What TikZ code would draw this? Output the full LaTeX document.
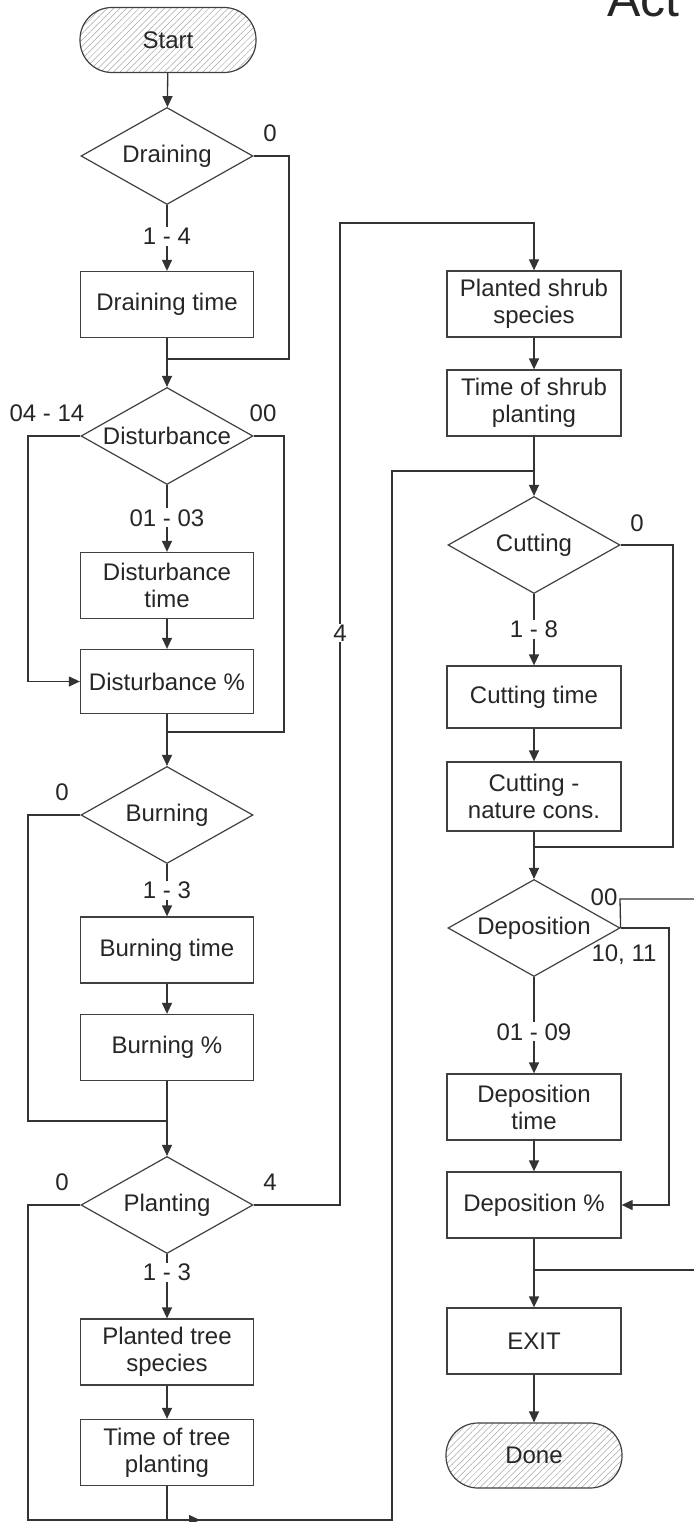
\documentclass[tikz,border=0pt]{standalone}
\usepackage{fontspec}
\setmainfont{Liberation Sans}
\usetikzlibrary{shapes.geometric,arrows.meta,patterns.meta}
% zero-width text, so the decision diamonds keep their fixed size
\newcommand{\zw}[1]{\makebox[0pt]{#1}}
\begin{document}
\begin{tikzpicture}[x=1pt,y=-1pt,
  every node/.style={font=\fontsize{24}{27}\selectfont, text=black!85},
  line/.style={draw=black!80, line width=1.3pt},
  arr/.style={line, -{Triangle[length=11pt,width=10pt]}},
  box/.style={draw=black!75, line width=1.3pt, minimum width=173pt,
    minimum height=66pt, inner sep=2pt, align=center},
  dec/.style={diamond, draw=black!75, line width=1.2pt, minimum width=172pt,
    minimum height=97pt, inner sep=0pt},
  term/.style={draw=black!75, line width=1.2pt, rounded corners=32pt,
    minimum width=176pt, minimum height=65pt,
    pattern={Lines[angle=45,distance=4.5pt,line width=0.5pt]}, pattern color=black!35},
  lbl/.style={inner sep=1pt},
  cutlbl/.style={lbl, fill=white}
]
\useasboundingbox (0,0) rectangle (693,1522);

% heading
\node[font=\fontsize{50}{50}\selectfont, anchor=base west, inner sep=0pt] (title) at (607,17) {Act};

% left column
\node[term] (start) at (168,40) {Start};
\node[dec] (drain) at (167,156) {\zw{Draining}};
\node[box] (drtime) at (167,304.5) {Draining time};
\node[dec] (dist) at (167,436) {\zw{Disturbance}};
\node[box] (disttime) at (167,585.5) {Disturbance\\time};
\node[box, minimum height=64pt] (distpct) at (167,681.5) {Disturbance \%};
\node[dec] (burn) at (167,815) {\zw{Burning}};
\node[box] (burntime) at (167,950) {Burning time};
\node[box] (burnpct) at (167,1047.5) {Burning \%};
\node[dec] (plant) at (167,1205) {\zw{Planting}};
\node[box] (treesp) at (167,1352) {Planted tree\\species};
\node[box] (treetime) at (167,1452.5) {Time of tree\\planting};

% right column
\node[box, minimum width=174pt] (shrubsp) at (534,304) {Planted shrub\\species};
\node[box, minimum width=174pt] (shrubtime) at (534,403) {Time of shrub\\planting};
\node[dec] (cut) at (534,545) {\zw{Cutting}};
\node[box, minimum width=174pt, minimum height=62pt] (cuttime) at (534,697) {Cutting time};
\node[box, minimum width=174pt, minimum height=69pt] (cutnat) at (534,796.5) {Cutting -\\nature cons.};
\node[dec] (dep) at (534,928) {\zw{Deposition}};
\node[box, minimum width=174pt] (deptime) at (534,1107) {Deposition\\time};
\node[box, minimum width=174pt] (deppct) at (534,1205) {Deposition \%};
\node[box, minimum width=174pt] (exit) at (534,1341) {EXIT};
\node[term] (done) at (534,1455.5) {Done};

% branch labels
\node[lbl] (ldr0) at (270,133) {0};
\node[lbl] (ldi1) at (47,413) {04 - 14};
\node[lbl] (ldi0) at (263,413) {00};
\node[lbl] (lbu0) at (62,792) {0};
\node[lbl] (lpl0) at (62,1182) {0};
\node[lbl] (lpl4) at (270,1182) {4};
\node[lbl] (lcu0) at (637,523) {0};
\node[lbl] (lde0) at (604,897) {00};
\node[lbl] (lde1) at (624,955) {10, 11};

% junction points
\coordinate (m1) at (167,359);
\coordinate (m2) at (167,732);
\coordinate (m3) at (167,1121);
\coordinate (m4) at (534,471);
\coordinate (m5) at (534,847);
\coordinate (m6) at (534,1270);
\coordinate (tj) at (200,1520);
\coordinate (ex1) at (700,899);
\coordinate (ex2) at (700,1270);

% draining
\draw[arr] (start) -- (drain);
\draw[arr] (drain.south) -- node[cutlbl,pos=.48] (l14) {1 - 4} (drtime.north);
\draw[line] (drain.east) -- (289,156) |- (m1);
\draw[arr] (drtime.south) -- (dist.north);

% disturbance
\draw[arr] (dist.south) -- node[cutlbl,pos=.49] (l0103) {01 - 03} (disttime.north);
\draw[arr] (disttime.south) -- (distpct.north);
\draw[arr] (dist.west) -- (28,436) |- (distpct.west);
\draw[line] (dist.east) -- (284,436) |- (m2);
\draw[arr] (distpct.south) -- (burn.north);

% burning
\draw[arr] (burn.south) -- node[cutlbl,pos=.5] (l13a) {1 - 3} (burntime.north);
\draw[arr] (burntime.south) -- (burnpct.north);
\draw[line] (burn.west) -- (28,815) |- (m3);
\draw[arr] (burnpct.south) -- (plant.north);

% planting
\draw[arr] (plant.south) -- node[cutlbl,pos=.28] (l13b) {1 - 3} (treesp.north);
\draw[arr] (treesp.south) -- (treetime.north);
\draw[arr] (treetime.south) |- (tj);
\draw[line] (plant.west) -- (28,1205) -- (28,1520) -- (392,1520) |- (m4);
\draw[arr] (plant.east) -- (340,1205) -- (340,223) -| (shrubsp.north);
\node[cutlbl] (l4b) at (340,633) {4};

% shrubs and cutting
\draw[arr] (shrubsp.south) -- (shrubtime.north);
\draw[arr] (shrubtime.south) -- (cut.north);
\draw[arr] (cut.south) -- node[cutlbl,pos=.5] (l18) {1 - 8} (cuttime.north);
\draw[arr] (cuttime.south) -- (cutnat.north);
\draw[line] (cut.east) -- (673,545) |- (m5);
\draw[arr] (cutnat.south) -- (dep.north);

% deposition
\draw[arr] (dep.south) -- node[cutlbl,pos=.57] (l0109) {01 - 09} (deptime.north);
\draw[arr] (deptime.south) -- (deppct.north);
\draw[arr] (dep.east) -- (669,928) |- (deppct.east);
\draw[line] (dep.east) -- (620,899) -- (ex1);
\draw[line] (ex2) -- (m6);
\draw[arr] (deppct.south) -- (exit.north);
\draw[arr] (exit.south) -- (done.north);
\end{tikzpicture}
\end{document}
